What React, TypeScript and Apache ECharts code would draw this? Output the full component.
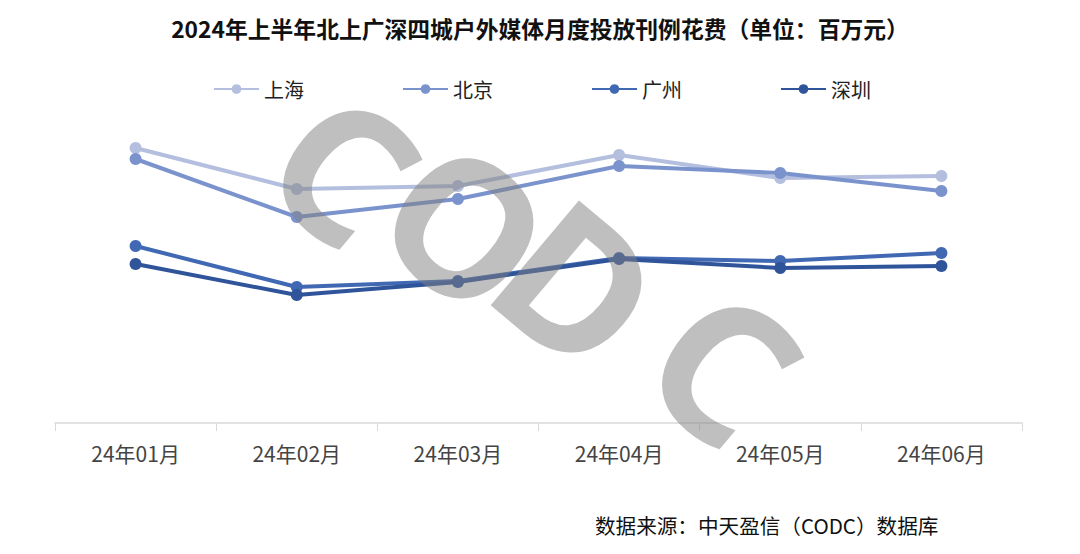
import React, { useEffect, useRef } from "react";
import * as echarts from "echarts";

const titleText = "2024年上半年北上广深四城户外媒体月度投放刊例花费（单位：百万元）";
const sourceText = "数据来源：中天盈信（CODC）数据库";
const watermarkLetters = ["C", "O", "D", "C"];
const months = ["24年01月", "24年02月", "24年03月", "24年04月", "24年05月", "24年06月"];
const seriesNames = ["上海", "北京", "广州", "深圳"];
const shanghai = [275, 234, 237, 268, 245, 247];
const beijing = [264, 206, 224, 257, 250, 232];
const guangzhou = [177, 136, 142, 165, 162, 170];
const shenzhen = [159, 128, 141, 164, 155, 157];
const colors = ["#b4bfdf", "#7b93cd", "#4168b3", "#30549a"];

const FONT = "'Noto Sans CJK SC', 'Noto Sans', sans-serif";
const WM_POS = [
  [346, 166, 188],
  [468, 224, 188],
  [580, 283, 192],
  [726, 364, 192],
];

export default function App() {
  const ref = useRef<HTMLDivElement>(null);
  useEffect(() => {
    if (!ref.current) return;
    const chart = echarts.init(ref.current, null, { renderer: "svg" });
    const values = [shanghai, beijing, guangzhou, shenzhen];
    chart.setOption({
      animation: false,
      backgroundColor: "#ffffff",
      title: {
        text: titleText,
        left: "center",
        top: 12,
        textStyle: { fontSize: 22.8, fontWeight: "bold", color: "#111", fontFamily: FONT },
      },
      legend: {
        data: seriesNames,
        left: 208,
        top: 74,
        itemWidth: 45,
        itemHeight: 12,
        itemGap: 98,
        textStyle: { fontSize: 20, color: "#222", fontFamily: FONT },
      },
      grid: { left: 55, right: 58, top: 123, bottom: 131 },
      xAxis: {
        type: "category",
        data: months,
        boundaryGap: true,
        axisLine: { show: true, lineStyle: { color: "#d9d9d9", width: 1.5 } },
        axisTick: { show: true, length: 8, lineStyle: { color: "#d9d9d9" } },
        axisLabel: { fontSize: 21, color: "#444", margin: 19, fontFamily: FONT },
      },
      yAxis: {
        type: "value",
        min: 0,
        max: 300,
        show: false,
        splitLine: { show: false },
      },
      series: seriesNames.map((name, i) => ({
        name,
        type: "line",
        data: values[i],
        symbol: "circle",
        symbolSize: 12,
        color: colors[i],
        itemStyle: { color: colors[i] },
        lineStyle: { color: colors[i], width: 4 },
        z: 2 + i,
      })),
      graphic: [
        ...watermarkLetters.map((ch, i) => ({
          type: "text",
          x: WM_POS[i][0],
          y: WM_POS[i][1],
          rotation: -0.7,
          z: 100,
          style: {
            text: ch,
            fontSize: WM_POS[i][2],
            fontWeight: "bold",
            fontFamily: "'Noto Sans', 'DejaVu Sans', sans-serif",
            fill: "rgba(128,128,128,0.5)",
            align: "center",
            verticalAlign: "middle",
          },
        })),
        {
          type: "text",
          left: 595,
          top: 515,
          style: {
            text: sourceText,
            fontSize: 20.6,
            fill: "#111",
            fontFamily: FONT,
          },
        },
      ],
    });
    return () => chart.dispose();
  }, []);
  return <div ref={ref} style={{ width: 1080, height: 554, margin: -8 }} />;
}
